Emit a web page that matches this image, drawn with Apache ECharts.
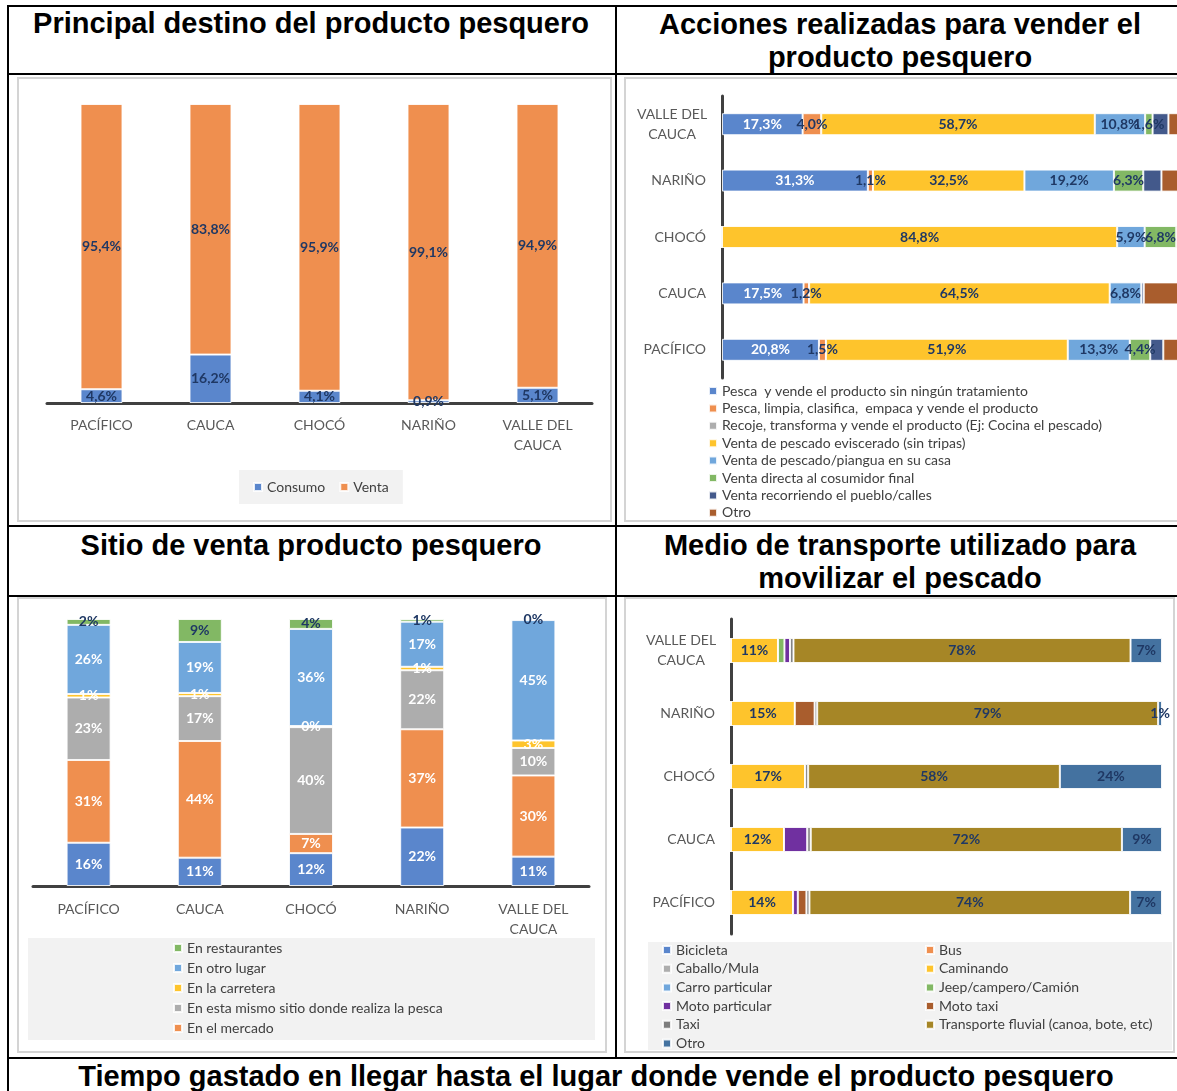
<!DOCTYPE html>
<html>
<head>
<meta charset="utf-8">
<script src="https://cdn.jsdelivr.net/npm/echarts@6/dist/echarts.min.js"></script>
<style>
html, body { margin: 0; padding: 0; overflow: hidden; }
body { width: 1177px; height: 1091px; position: relative; background: #fff; font-family: 'Liberation Sans', Arial, sans-serif; }
.hl { position: absolute; height: 2px; background: #000; }
.vl { position: absolute; width: 2px; background: #000; }
.title { position: absolute; font-weight: bold; font-size: 29px; line-height: 33px; text-align: center; color: #000; white-space: nowrap; }
.chart { position: absolute; box-sizing: border-box; border: 2px solid #d4d4d4; }
</style>
</head>
<body>
<!-- table lines -->
<div class="hl" style="left:7px;top:5px;width:1180px"></div>
<div class="hl" style="left:7px;top:73px;width:1180px"></div>
<div class="hl" style="left:7px;top:525px;width:1180px"></div>
<div class="hl" style="left:7px;top:595px;width:1180px"></div>
<div class="hl" style="left:7px;top:1057px;width:1180px"></div>
<div class="vl" style="left:7px;top:5px;height:1090px"></div>
<div class="vl" style="left:615px;top:5px;height:1053px"></div>

<div class="title" style="left:7px;top:7px;width:608px">Principal destino del producto pesquero</div>
<div class="title" style="left:615px;top:8px;width:570px">Acciones realizadas para vender el<br>producto pesquero</div>
<div class="title" style="left:7px;top:529px;width:608px">Sitio de venta producto pesquero</div>
<div class="title" style="left:615px;top:529px;width:570px">Medio de transporte utilizado para<br>movilizar el pescado</div>
<div class="title" style="left:7px;top:1060px;width:1178px">Tiempo gastado en llegar hasta el lugar donde vende el producto pesquero</div>

<div id="destino" class="chart" style="left:17px;top:77px;width:595px;height:445px"></div>
<div id="acciones" class="chart" style="left:624px;top:77px;width:620px;height:445px"></div>
<div id="sitio" class="chart" style="left:17px;top:597px;width:590px;height:456px"></div>
<div id="transporte" class="chart" style="left:624px;top:597px;width:551px;height:456px"></div>

<script>
// categories shared by all four charts (bottom-to-top for the horizontal ones)
const categories = ['PACÍFICO', 'CAUCA', 'CHOCÓ', 'NARIÑO', 'VALLE DEL CAUCA'];

// Principal destino del producto pesquero (%)
const consumo = [4.6, 16.2, 4.1, 0.9, 5.1];
const venta = [95.4, 83.8, 95.9, 99.1, 94.9];

// Acciones realizadas para vender el producto pesquero (%)
const pescaSinTratamiento = [20.8, 17.5, 0, 31.3, 17.3];
const pescaLimpia = [1.5, 1.2, 0, 1.1, 4.0];
const recojeTransforma = [0, 0, 0, 0, 0];
const eviscerado = [51.9, 64.5, 84.8, 32.5, 58.7];
const ventaCasa = [13.3, 6.8, 5.9, 19.2, 10.8];
const ventaDirecta = [4.4, 0, 6.8, 6.3, 1.6];
const recorriendo = [2.8, 0.5, 0, 3.9, 3.4];
const otroAcciones = [5.3, 9.5, 2.5, 5.7, 4.2];

// Sitio de venta producto pesquero (%)
const sitioSinLeyenda = [16.2, 10.6, 12.3, 21.9, 11.0];
const mercado = [31.0, 43.7, 7.2, 36.8, 30.4];
const mismoSitio = [23.4, 16.8, 40.0, 22.1, 10.3];
const carretera = [1.3, 1.2, 0.4, 1.3, 2.8];
const otroLugar = [25.9, 19.1, 36.4, 16.9, 45.1];
const restaurantes = [2.2, 8.6, 3.7, 1.0, 0.4];

// Medio de transporte utilizado para movilizar el pescado (%)
const bicicleta = [0, 0, 0, 0, 0];
const bus = [0, 0, 0, 0, 0];
const caballo = [0, 0, 0, 0, 0];
const caminando = [14.4, 12.3, 17.2, 14.8, 10.9];
const carro = [0, 0, 0, 0, 0];
const jeep = [0, 0, 0, 0, 1.5];
const motoParticular = [1.1, 5.4, 0, 0, 1.3];
const motoTaxi = [2.0, 0, 0, 4.6, 0];
const taxi = [0.7, 0.8, 0.7, 0.6, 0.8];
const fluvial = [74.4, 72.2, 58.4, 79.1, 78.2];
const otroTransporte = [7.4, 9.3, 23.7, 0.9, 7.3];

const navy = '#1f3864';
const axisColor = '#404040';
const textColor = '#595959';
const chartFont = 'Lato';

const colors = {
    blue: '#5a86cc',
    orange: '#ef8f4f',
    gray: '#adadad',
    yellow: '#fec42c',
    lightBlue: '#70a7dc',
    green: '#82b864',
    darkBlue: '#43598b',
    brown: '#a95d2d',
    purple: '#7030a0',
    darkGray: '#7f7f7f',
    olive: '#a68626',
    steel: '#4472a0'
};

function pct1(p) {
    return p.value ? p.value.toFixed(1).replace('.', ',') + '%' : '';
}
function pct0(p) {
    return Math.round(p.value) + '%';
}

function stackSeries(name, data, color, label, barWidth) {
    return {
        name,
        type: 'bar',
        stack: 'total',
        barWidth,
        data,
        itemStyle: { color, borderColor: 'rgba(255,255,255,0.85)', borderWidth: 1 },
        label: label ? {
            show: true,
            position: 'inside',
            color: label.color,
            fontWeight: 'bold',
            fontSize: 14,
            fontFamily: chartFont,
            formatter: label.formatter
        } : { show: false }
    };
}

const categoryLabelX = {
    color: textColor,
    fontSize: 14,
    lineHeight: 20,
    interval: 0,
    formatter: v => v === 'VALLE DEL CAUCA' ? 'VALLE DEL\nCAUCA' : v
};

const categoryLabelY = {
    color: textColor,
    fontSize: 14,
    margin: 16,
    formatter: v => v === 'VALLE DEL CAUCA' ? '{c|VALLE DEL}\n{c|CAUCA}' : v,
    rich: { c: { width: 68, align: 'center', fontSize: 14, lineHeight: 20, color: textColor, fontFamily: chartFont } }
};

const legendBase = {
    icon: 'rect',
    itemWidth: 8,
    itemHeight: 8,
    textStyle: { fontSize: 14, color: axisColor, fontFamily: chartFont }
};

// ---- Principal destino ----
const destinoChart = echarts.init(document.getElementById('destino'));
destinoChart.setOption({
    animation: false,
    textStyle: { fontFamily: chartFont },
    grid: { left: 28, right: 18, top: 25, bottom: 117 },
    legend: {
        ...legendBase,
        left: 220,
        top: 391,
        padding: [10, 14],
        itemGap: 14,
        backgroundColor: '#f2f2f2',
        data: ['Consumo', 'Venta']
    },
    xAxis: {
        type: 'category',
        data: categories,
        axisTick: { show: false },
        axisLine: { lineStyle: { color: axisColor, width: 3 } },
        axisLabel: { ...categoryLabelX, margin: 12 }
    },
    yAxis: { type: 'value', min: 0, max: 100, show: false },
    series: [
        stackSeries('Consumo', consumo, colors.blue, { color: navy, formatter: pct1 }, 42),
        stackSeries('Venta', venta, colors.orange, { color: navy, formatter: pct1 }, 42)
    ]
});

// ---- Acciones realizadas ----
const accionesChart = echarts.init(document.getElementById('acciones'));
const accionesSeries = [
    stackSeries('Pesca  y vende el producto sin ningún tratamiento', pescaSinTratamiento, colors.blue, { color: '#fff', formatter: pct1 }, 22),
    stackSeries('Pesca, limpia, clasifica,  empaca y vende el producto', pescaLimpia, colors.orange, { color: navy, formatter: pct1 }, 22),
    stackSeries('Recoje, transforma y vende el producto (Ej: Cocina el pescado)', recojeTransforma, colors.gray, { color: navy, formatter: pct1 }, 22),
    stackSeries('Venta de pescado eviscerado (sin tripas)', eviscerado, colors.yellow, { color: navy, formatter: pct1 }, 22),
    stackSeries('Venta de pescado/piangua en su casa', ventaCasa, colors.lightBlue, { color: navy, formatter: pct1 }, 22),
    stackSeries('Venta directa al cosumidor final', ventaDirecta, colors.green, { color: navy, formatter: pct1 }, 22),
    stackSeries('Venta recorriendo el pueblo/calles', recorriendo, colors.darkBlue, null, 22),
    stackSeries('Otro', otroAcciones, colors.brown, null, 22)
];
accionesChart.setOption({
    animation: false,
    textStyle: { fontFamily: chartFont },
    grid: { left: 96, right: 54, top: 17, bottom: 142 },
    legend: {
        ...legendBase,
        orient: 'vertical',
        left: 82,
        top: 305,
        padding: 0,
        itemGap: 3.4,
        textStyle: { ...legendBase.textStyle, lineHeight: 14 },
        data: accionesSeries.map(s => s.name)
    },
    xAxis: { type: 'value', min: 0, max: 100, show: false },
    yAxis: {
        type: 'category',
        data: categories,
        axisTick: { show: false },
        axisLine: { lineStyle: { color: axisColor, width: 3 } },
        axisLabel: categoryLabelY
    },
    series: accionesSeries
});

// ---- Sitio de venta ----
const sitioChart = echarts.init(document.getElementById('sitio'));
sitioChart.setOption({
    animation: false,
    textStyle: { fontFamily: chartFont },
    grid: { left: 14, right: 16, top: 20, bottom: 165 },
    graphic: [{
        type: 'rect',
        left: 9,
        top: 339,
        z: -1,
        shape: { width: 567, height: 102 },
        style: { fill: '#f2f2f2' }
    }],
    legend: {
        ...legendBase,
        orient: 'vertical',
        left: 154,
        top: 339,
        padding: 0,
        itemGap: 0,
        textStyle: { ...legendBase.textStyle, lineHeight: 20 },
        data: ['En restaurantes', 'En otro lugar', 'En la carretera', 'En esta mismo sitio donde realiza la pesca', 'En el mercado']
    },
    xAxis: {
        type: 'category',
        data: categories,
        axisTick: { show: false },
        axisLine: { lineStyle: { color: axisColor, width: 3 } },
        axisLabel: { ...categoryLabelX, margin: 13 }
    },
    yAxis: { type: 'value', min: 0, max: 100, show: false },
    series: [
        stackSeries('Sin leyenda', sitioSinLeyenda, colors.blue, { color: '#fff', formatter: pct0 }, 44),
        stackSeries('En el mercado', mercado, colors.orange, { color: '#fff', formatter: pct0 }, 44),
        stackSeries('En esta mismo sitio donde realiza la pesca', mismoSitio, colors.gray, { color: '#fff', formatter: pct0 }, 44),
        stackSeries('En la carretera', carretera, colors.yellow, { color: '#fff', formatter: pct0 }, 44),
        stackSeries('En otro lugar', otroLugar, colors.lightBlue, { color: '#fff', formatter: pct0 }, 44),
        stackSeries('En restaurantes', restaurantes, colors.green, { color: navy, formatter: pct0 }, 44)
    ]
});

// ---- Medio de transporte ----
const transporteChart = echarts.init(document.getElementById('transporte'));
const legendCol = {
    ...legendBase,
    orient: 'vertical',
    top: 344,
    padding: 0,
    itemGap: 4.7,
    textStyle: { ...legendBase.textStyle, lineHeight: 14 }
};
transporteChart.setOption({
    animation: false,
    textStyle: { fontFamily: chartFont },
    grid: { left: 105, right: 11, top: 20, bottom: 117 },
    graphic: [{
        type: 'rect',
        left: 22,
        top: 343,
        z: -1,
        shape: { width: 524, height: 108 },
        style: { fill: '#f2f2f2' }
    }],
    legend: [
        { ...legendCol, left: 36, data: ['Bicicleta', 'Caballo/Mula', 'Carro particular', 'Moto particular', 'Taxi', 'Otro'] },
        { ...legendCol, left: 299, data: ['Bus', 'Caminando', 'Jeep/campero/Camión', 'Moto taxi', 'Transporte fluvial (canoa, bote, etc)'] }
    ],
    xAxis: { type: 'value', min: 0, max: 100, show: false },
    yAxis: {
        type: 'category',
        data: categories,
        axisTick: { show: false },
        axisLine: { lineStyle: { color: axisColor, width: 3 } },
        axisLabel: categoryLabelY
    },
    series: [
        stackSeries('Bicicleta', bicicleta, colors.blue, null, 25),
        stackSeries('Bus', bus, colors.orange, null, 25),
        stackSeries('Caballo/Mula', caballo, colors.gray, null, 25),
        stackSeries('Caminando', caminando, colors.yellow, { color: navy, formatter: pct0 }, 25),
        stackSeries('Carro particular', carro, colors.lightBlue, null, 25),
        stackSeries('Jeep/campero/Camión', jeep, colors.green, null, 25),
        stackSeries('Moto particular', motoParticular, colors.purple, null, 25),
        stackSeries('Moto taxi', motoTaxi, colors.brown, null, 25),
        stackSeries('Taxi', taxi, colors.darkGray, null, 25),
        stackSeries('Transporte fluvial (canoa, bote, etc)', fluvial, colors.olive, { color: navy, formatter: pct0 }, 25),
        stackSeries('Otro', otroTransporte, colors.steel, { color: navy, formatter: pct0 }, 25)
    ]
});
</script>
</body>
</html>
